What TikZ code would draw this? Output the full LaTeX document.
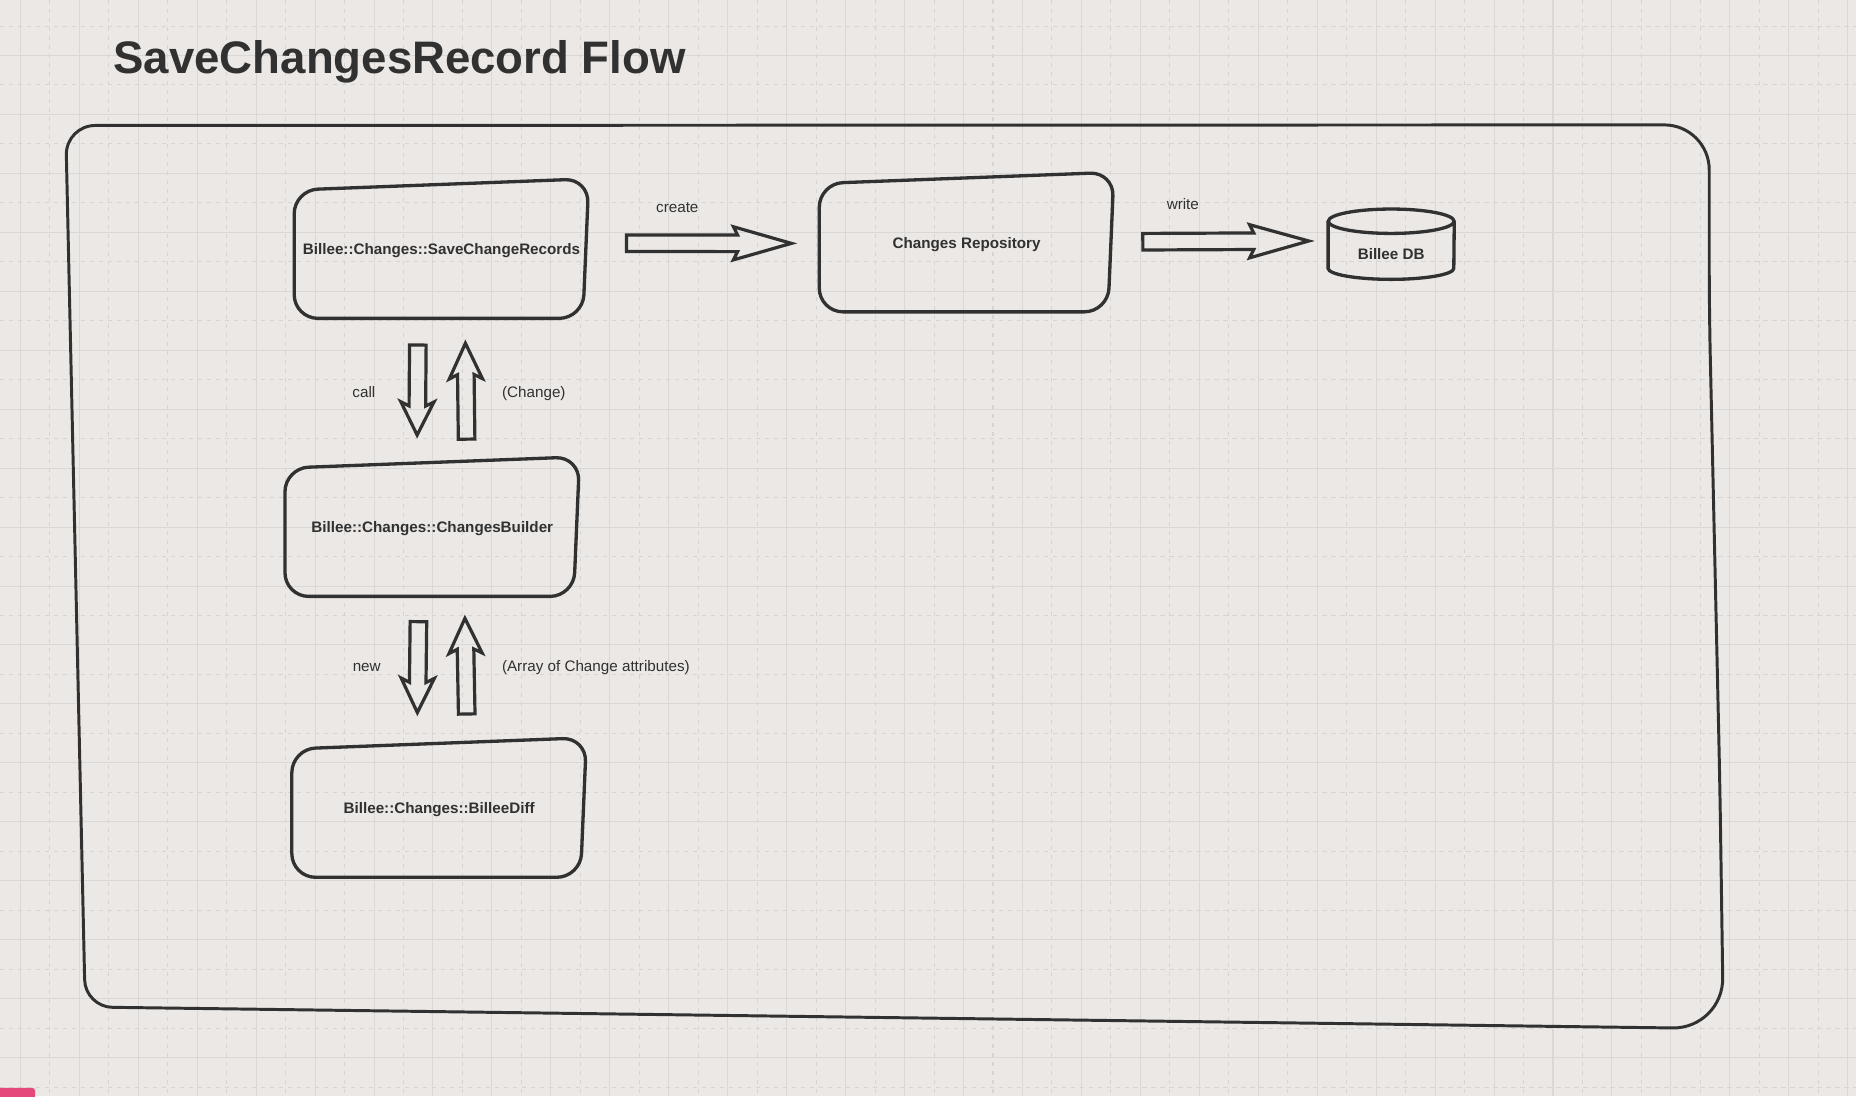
\documentclass[tikz,border=0pt]{standalone}
\usepackage{fontspec}
\setmainfont{Liberation Sans}
\usetikzlibrary{calc}

\definecolor{paper}{HTML}{EBE8E5}
\definecolor{gridsolid}{HTML}{DAD8D6}
\definecolor{griddash}{HTML}{D7D5D3}
\definecolor{ink}{HTML}{313131}
\definecolor{tabpink}{HTML}{E5487B}

% hand-drawn looking box round a named node
\newcommand\sketchbox[1]{%
  \draw[skline] (#1.west) -- ([yshift=-9.5pt]#1.north west) -- (#1.north east)
    -- ([xshift=-5pt]#1.south east) -- (#1.south west) -- cycle;}

\begin{document}
\begin{tikzpicture}[
  x=1pt, y=-1pt,
  inkline/.style={draw=ink, line width=2.5pt},
  skline/.style={inkline, line width=2.8pt, rounded corners=20pt},
  gsolid/.style={draw=gridsolid, line width=0.85pt},
  gdash/.style={draw=griddash, line width=0.85pt, dash pattern=on 3.8pt off 3.8pt},
  sbox/.style={minimum width=248.5pt, minimum height=117.5pt, inner sep=0pt,
    text height=10.2pt, text depth=0pt,
    text=ink, font=\bfseries\fontsize{12.85}{15}\selectfont},
  dbnode/.style={sbox, minimum width=106.2pt, minimum height=20pt, text height=8.6pt},
  lbl/.style={inner sep=0pt, text=ink, anchor=base, font=\fontsize{12.85}{15}\selectfont},
  ttl/.style={inner sep=0pt, text=ink, font=\bfseries\fontsize{38.5}{46}\selectfont},
  fat/.style={inkline, line width=2.7pt, to path={
    let \p1=(\tikztostart), \p2=(\tikztotarget),
        \p3=($(\p1)!7pt!90:(\p2)$), \p4=($(\p1)!14pt!90:(\p2)$),
        \p7=({\x3-(\x1)},{\y3-(\y1)}), \p8=({\x4-(\x1)},{\y4-(\y1)}),
        \p6=($(\p2)!#1!(\p1)$), \p5=($(\p6)!3.5pt!(\p2)$) in
    (\p3) -- ($(\p5)+(\p7)$) -- ($(\p6)+(\p8)$) -- (\p2)
      -- ($(\p6)-(\p8)$) -- ($(\p5)-(\p7)$) -- ($(\p1)-(\p7)$) -- cycle}},
  fat/.default=48pt]

  \useasboundingbox (0,0) rectangle (1568,926);
  \fill[paper] (0,0) rectangle (1568,926);

  % grid
  \foreach \gx in {17.2,67,...,1568} \draw[gsolid] (\gx,0) -- (\gx,926);
  \foreach \gx in {42.1,91.9,...,1568} \draw[gdash] (\gx,0) -- (\gx,926);
  \foreach \gy in {46.9,96.7,...,926} \draw[gsolid] (0,\gy) -- (1568,\gy);
  \foreach \gy in {22,71.8,...,926} \draw[gdash] (0,\gy) -- (1568,\gy);
  \fill[tabpink, rounded corners=2.5pt] (-6,919) rectangle (29.6,934);

  \node[ttl, anchor=base west] (title) at (95.7,62.5) {SaveChangesRecord Flow};

  % outer frame
  \draw[inkline, rounded corners=25pt] (63.8,480) -- (55.5,106)
    [rounded corners=38pt] -- (1444,105.5) -- (1444,262) -- (1453,664)
    [rounded corners=43pt] -- (1456,869)
    [rounded corners=23pt] -- (72,850.7) -- cycle;

  \node[sbox] (save) at (373,210) {Billee::Changes::SaveChangeRecords};
  \node[sbox] (repo) at (816.6,204.5) {Changes Repository};
  \node[sbox] (builder) at (365.2,444.9) {Billee::Changes::ChangesBuilder};
  \node[sbox] (diff) at (371,682.2) {Billee::Changes::BilleeDiff};
  \node[dbnode] (db) at (1175.3,214.9) {Billee DB};
  \sketchbox{save}
  \sketchbox{repo}
  \sketchbox{builder}
  \sketchbox{diff}
  \draw[skline] ([yshift=28pt]db.center) ellipse [x radius=53.1pt, y radius=10.3pt];
  \draw[skline, rounded corners=0pt] ([yshift=28pt]db.west) -- ([yshift=-11.8pt]db.west)
    arc[start angle=180, end angle=360, x radius=53.1pt, y radius=9.3pt]
    -- ([yshift=28pt]db.east);

  % free ends of the fat arrows
  \coordinate (create0) at (529.2,205.5);
  \coordinate (create1) at (668.6,205.6);
  \coordinate (write0) at (965.5,204.2);
  \coordinate (write1) at (1105.7,203.6);
  \coordinate (call0) at (353,291.5);
  \coordinate (call1) at (352.4,367.5);
  \coordinate (change0) at (394.2,371);
  \coordinate (change1) at (393.2,290);
  \coordinate (new0) at (353.5,525.2);
  \coordinate (new1) at (352.6,602);
  \coordinate (attrs0) at (394.3,603.2);
  \coordinate (attrs1) at (392.8,522.4);

  \draw[fat=49pt] (create0) to (create1);
  \draw[fat=50pt] (write0) to (write1);
  \draw[fat=28pt] (call0) to (call1);
  \draw[fat=30pt] (change0) to (change1);
  \draw[fat=29pt] (new0) to (new1);
  \draw[fat=29.5pt] (attrs0) to (attrs1);

  \node[lbl] (createlbl) at (572.2,179.3) {create};
  \node[lbl] (writelbl) at (999.3,176.8) {write};
  \node[lbl] (calllbl) at (307.4,335.7) {call};
  \node[lbl] (changelbl) at (451,335.5) {(Change)};
  \node[lbl] (newlbl) at (309.8,567.4) {new};
  \node[lbl] (attrslbl) at (503.4,567.2) {(Array of Change attributes)};
\end{tikzpicture}
\end{document}
